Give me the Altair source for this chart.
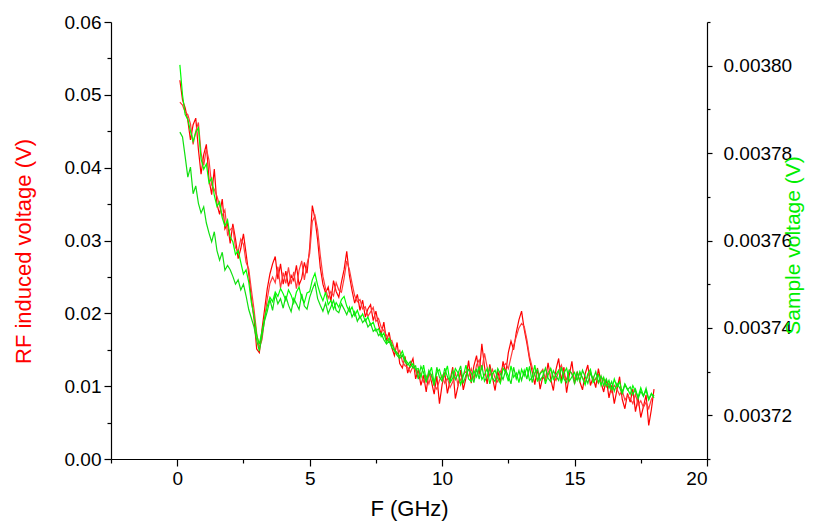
import altair as alt
import pandas as pd

# Frequency sweep (GHz)
freq = [round(0.1 * i, 1) for i in range(1, 181)]

# RF induced voltage (V), two sweeps
rf_a = [0.0520,0.0493,0.0482,0.0465,0.0438,0.0459,0.0468,0.0425,0.0391,0.0418,
        0.0432,0.0384,0.0363,0.0398,0.0350,0.0336,0.0357,0.0316,0.0323,0.0296,
        0.0323,0.0302,0.0275,0.0289,0.0309,0.0282,0.0254,0.0220,0.0192,0.0151,
        0.0146,0.0178,0.0206,0.0234,0.0254,0.0268,0.0278,0.0247,0.0268,0.0240,
        0.0258,0.0237,0.0252,0.0245,0.0266,0.0239,0.0248,0.0270,0.0255,0.0290,
        0.0348,0.0330,0.0301,0.0263,0.0240,0.0228,0.0236,0.0216,0.0245,0.0230,
        0.0222,0.0243,0.0260,0.0285,0.0252,0.0231,0.0214,0.0226,0.0204,0.0218,
        0.0195,0.0206,0.0212,0.0190,0.0203,0.0184,0.0171,0.0188,0.0162,0.0174,
        0.0153,0.0142,0.0160,0.0131,0.0125,0.0141,0.0118,0.0129,0.0138,0.0110,
        0.0123,0.0101,0.0115,0.0092,0.0120,0.0106,0.0089,0.0114,0.0076,0.0102,
        0.0119,0.0090,0.0108,0.0126,0.0083,0.0100,0.0122,0.0095,0.0111,0.0135,
        0.0104,0.0128,0.0142,0.0116,0.0158,0.0127,0.0103,0.0130,0.0112,0.0094,
        0.0121,0.0105,0.0134,0.0118,0.0146,0.0162,0.0150,0.0174,0.0191,0.0203,
        0.0178,0.0159,0.0137,0.0120,0.0102,0.0125,0.0096,0.0113,0.0108,0.0132,
        0.0110,0.0094,0.0123,0.0138,0.0107,0.0126,0.0091,0.0115,0.0134,0.0103,
        0.0120,0.0106,0.0095,0.0117,0.0129,0.0101,0.0112,0.0098,0.0124,0.0105,
        0.0092,0.0110,0.0084,0.0101,0.0076,0.0095,0.0113,0.0082,0.0069,0.0090,
        0.0078,0.0096,0.0065,0.0084,0.0057,0.0072,0.0088,0.0046,0.0068,0.0096]

rf_b = [0.0490,0.0486,0.0476,0.0473,0.0460,0.0432,0.0450,0.0462,0.0420,0.0403,
        0.0426,0.0410,0.0376,0.0370,0.0361,0.0348,0.0334,0.0342,0.0308,0.0315,
        0.0318,0.0290,0.0285,0.0302,0.0295,0.0270,0.0261,0.0232,0.0205,0.0173,
        0.0152,0.0164,0.0193,0.0220,0.0241,0.0250,0.0242,0.0264,0.0235,0.0256,
        0.0241,0.0263,0.0240,0.0257,0.0234,0.0259,0.0272,0.0246,0.0268,0.0282,
        0.0326,0.0334,0.0315,0.0280,0.0251,0.0234,0.0221,0.0230,0.0224,0.0242,
        0.0232,0.0229,0.0248,0.0272,0.0260,0.0241,0.0224,0.0216,0.0219,0.0206,
        0.0209,0.0196,0.0202,0.0208,0.0189,0.0193,0.0181,0.0176,0.0170,0.0161,
        0.0163,0.0151,0.0144,0.0149,0.0134,0.0128,0.0126,0.0119,0.0127,0.0121,
        0.0112,0.0118,0.0106,0.0114,0.0103,0.0117,0.0101,0.0096,0.0108,0.0115,
        0.0104,0.0111,0.0098,0.0106,0.0118,0.0102,0.0109,0.0116,0.0120,0.0113,
        0.0124,0.0110,0.0129,0.0136,0.0122,0.0145,0.0126,0.0114,0.0123,0.0111,
        0.0106,0.0120,0.0127,0.0131,0.0124,0.0140,0.0156,0.0168,0.0180,0.0186,
        0.0182,0.0164,0.0141,0.0126,0.0115,0.0109,0.0118,0.0123,0.0110,0.0119,
        0.0124,0.0113,0.0108,0.0121,0.0129,0.0116,0.0109,0.0122,0.0117,0.0110,
        0.0109,0.0118,0.0112,0.0105,0.0114,0.0120,0.0107,0.0111,0.0104,0.0113,
        0.0108,0.0099,0.0104,0.0092,0.0101,0.0096,0.0088,0.0094,0.0081,0.0087,
        0.0083,0.0076,0.0089,0.0074,0.0080,0.0071,0.0078,0.0069,0.0082,0.0088]

# Sample voltage (V), two sweeps
sv_a = [0.0038002,0.0037933,0.0037888,0.0037877,0.0037850,0.0037827,0.0037847,0.0037858,0.0037787,0.0037763,
        0.0037775,0.0037732,0.0037743,0.0037703,0.0037678,0.0037688,0.0037652,0.0037633,0.0037647,0.0037608,
        0.0037597,0.0037568,0.0037577,0.0037550,0.0037523,0.0037533,0.0037505,0.0037458,0.0037427,0.0037383,
        0.0037363,0.0037392,0.0037423,0.0037450,0.0037470,0.0037460,0.0037482,0.0037472,0.0037490,0.0037478,
        0.0037463,0.0037487,0.0037475,0.0037457,0.0037482,0.0037493,0.0037468,0.0037458,0.0037480,0.0037483,
        0.0037510,0.0037525,0.0037498,0.0037477,0.0037462,0.0037482,0.0037453,0.0037463,0.0037443,0.0037458,
        0.0037447,0.0037465,0.0037472,0.0037450,0.0037437,0.0037448,0.0037428,0.0037440,0.0037422,0.0037432,
        0.0037415,0.0037425,0.0037407,0.0037413,0.0037393,0.0037398,0.0037380,0.0037388,0.0037367,0.0037377,
        0.0037363,0.0037350,0.0037343,0.0037335,0.0037347,0.0037328,0.0037320,0.0037310,0.0037318,0.0037305,
        0.0037307,0.0037287,0.0037315,0.0037280,0.0037292,0.0037310,0.0037273,0.0037298,0.0037305,0.0037282,
        0.0037293,0.0037313,0.0037275,0.0037285,0.0037307,0.0037297,0.0037270,0.0037290,0.0037315,0.0037283,
        0.0037277,0.0037302,0.0037288,0.0037312,0.0037282,0.0037293,0.0037307,0.0037272,0.0037295,0.0037303,
        0.0037285,0.0037273,0.0037308,0.0037298,0.0037278,0.0037313,0.0037287,0.0037297,0.0037275,0.0037305,
        0.0037290,0.0037310,0.0037280,0.0037287,0.0037315,0.0037277,0.0037295,0.0037302,0.0037272,0.0037292,
        0.0037307,0.0037282,0.0037293,0.0037303,0.0037273,0.0037297,0.0037308,0.0037278,0.0037288,0.0037298,
        0.0037280,0.0037300,0.0037285,0.0037270,0.0037295,0.0037305,0.0037275,0.0037283,0.0037293,0.0037268,
        0.0037287,0.0037267,0.0037280,0.0037257,0.0037283,0.0037265,0.0037277,0.0037252,0.0037272,0.0037260,
        0.0037248,0.0037268,0.0037255,0.0037242,0.0037263,0.0037245,0.0037257,0.0037235,0.0037250,0.0037240]

sv_b = [0.0037848,0.0037837,0.0037792,0.0037745,0.0037768,0.0037707,0.0037725,0.0037685,0.0037663,0.0037677,
        0.0037640,0.0037617,0.0037597,0.0037620,0.0037577,0.0037555,0.0037573,0.0037532,0.0037543,0.0037533,
        0.0037518,0.0037500,0.0037510,0.0037487,0.0037500,0.0037473,0.0037442,0.0037422,0.0037402,0.0037372,
        0.0037347,0.0037382,0.0037417,0.0037438,0.0037465,0.0037440,0.0037477,0.0037455,0.0037467,0.0037445,
        0.0037473,0.0037452,0.0037437,0.0037467,0.0037455,0.0037442,0.0037478,0.0037450,0.0037443,0.0037470,
        0.0037488,0.0037503,0.0037467,0.0037452,0.0037438,0.0037457,0.0037433,0.0037448,0.0037463,0.0037440,
        0.0037435,0.0037455,0.0037443,0.0037430,0.0037447,0.0037425,0.0037437,0.0037415,0.0037427,0.0037412,
        0.0037420,0.0037402,0.0037410,0.0037392,0.0037398,0.0037382,0.0037388,0.0037373,0.0037363,0.0037370,
        0.0037355,0.0037348,0.0037337,0.0037330,0.0037338,0.0037322,0.0037315,0.0037323,0.0037308,0.0037313,
        0.0037283,0.0037312,0.0037298,0.0037275,0.0037303,0.0037290,0.0037268,0.0037310,0.0037287,0.0037278,
        0.0037308,0.0037288,0.0037277,0.0037302,0.0037282,0.0037295,0.0037313,0.0037273,0.0037292,0.0037305,
        0.0037297,0.0037275,0.0037307,0.0037283,0.0037315,0.0037278,0.0037288,0.0037308,0.0037285,0.0037277,
        0.0037307,0.0037295,0.0037282,0.0037303,0.0037290,0.0037272,0.0037310,0.0037283,0.0037302,0.0037280,
        0.0037303,0.0037283,0.0037312,0.0037275,0.0037297,0.0037305,0.0037280,0.0037290,0.0037308,0.0037285,
        0.0037277,0.0037302,0.0037290,0.0037280,0.0037310,0.0037283,0.0037275,0.0037303,0.0037295,0.0037273,
        0.0037298,0.0037278,0.0037303,0.0037288,0.0037273,0.0037297,0.0037282,0.0037300,0.0037275,0.0037290,
        0.0037268,0.0037283,0.0037262,0.0037277,0.0037255,0.0037273,0.0037263,0.0037250,0.0037270,0.0037258,
        0.0037265,0.0037247,0.0037260,0.0037238,0.0037255,0.0037243,0.0037262,0.0037237,0.0037248,0.0037245]

x_ticks = [-2.5, 0, 2.5, 5, 7.5, 10, 12.5, 15, 17.5, 20]
left_ticks = [0, 0.005, 0.01, 0.015, 0.02, 0.025, 0.03, 0.035, 0.04, 0.045, 0.05, 0.055, 0.06]
right_ticks = [0.00371, 0.00372, 0.00373, 0.00374, 0.00375, 0.00376, 0.00377, 0.00378, 0.00379, 0.00380, 0.00381]

series_names = ["rf_a", "rf_b", "sv_a", "sv_b"]
series_colors = ["#ff0000", "#ff3a3a", "#00ff00", "#10e010"]

rf_df = pd.DataFrame({
    "F": freq + freq,
    "rf": rf_a + rf_b,
    "series": ["rf_a"] * len(freq) + ["rf_b"] * len(freq),
})
sv_df = pd.DataFrame({
    "F": freq + freq,
    "sv": sv_a + sv_b,
    "series": ["sv_a"] * len(freq) + ["sv_b"] * len(freq),
})

FONT = "Liberation Sans"

x_enc = alt.X(
    "F:Q",
    scale=alt.Scale(domain=[-2.5, 20], nice=False, zero=False),
    axis=alt.Axis(
        title="F (GHz)",
        values=x_ticks,
        labelExpr="datum.value % 5 === 0 ? format(datum.value, 'd') : ''",
        tickSize={"condition": {"test": "datum.value % 5 === 0", "value": 7}, "value": 4},
        titleFontSize=22,
        titlePadding=10,
        labelPadding=3,
    ),
)

color_enc = alt.Color(
    "series:N",
    scale=alt.Scale(domain=series_names, range=series_colors),
    legend=None,
)

rf_layer = alt.Chart(rf_df).mark_line(strokeWidth=1.2, clip=True).encode(
    x=x_enc,
    y=alt.Y(
        "rf:Q",
        scale=alt.Scale(domain=[0, 0.06], nice=False, zero=False),
        axis=alt.Axis(
            title="RF induced voltage (V)",
            titleColor="#ff0000",
            orient="left",
            values=left_ticks,
            labelExpr="abs(datum.value*100 - round(datum.value*100)) < 0.001 ? format(datum.value, '.2f') : ''",
            tickSize={"condition": {"test": "abs(datum.value*100 - round(datum.value*100)) < 0.001", "value": 7}, "value": 4},
            titleFontSize=22,
            titleAngle=270,
            titleX=-88,
            titleY=229,
            titleBaseline="middle",
            titleAlign="center",
            labelPadding=3,
        ),
    ),
    color=color_enc,
    detail="series:N",
)

sv_layer = alt.Chart(sv_df).mark_line(strokeWidth=1.2, clip=True).encode(
    x=x_enc,
    y=alt.Y(
        "sv:Q",
        scale=alt.Scale(domain=[0.00371, 0.00381], nice=False, zero=False),
        axis=alt.Axis(
            title="Sample voltage (V)",
            titleColor="#00ee00",
            orient="right",
            values=right_ticks,
            labelExpr="round(datum.value*100000) % 2 === 0 ? format(datum.value, '.5f') : ''",
            tickSize={"condition": {"test": "round(datum.value*100000) % 2 === 0", "value": 5}, "value": 3},
            titleFontSize=21,
            titleAngle=270,
            titleX=86,
            titleY=223,
            titleBaseline="middle",
            titleAlign="center",
            labelPadding=11,
        ),
    ),
    color=color_enc,
    detail="series:N",
)

chart = (
    alt.layer(rf_layer, sv_layer)
    .resolve_scale(y="independent")
    .properties(
        width=596,
        height=437,
        autosize=alt.AutoSizeParams(type="none"),
        padding={"left": 103, "top": 14, "right": 98, "bottom": 66},
        background="white",
    )
    .configure_view(stroke=None)
    .configure_axis(
        labelFont=FONT,
        titleFont=FONT,
        labelFontSize=19,
        labelColor="black",
        titleFontWeight="normal",
        domainColor="black",
        domainWidth=1.2,
        tickColor="black",
        tickWidth=1.2,
        grid=False,
    )
)

chart.save("out.html", embed_options={"renderer": "svg", "actions": False})
